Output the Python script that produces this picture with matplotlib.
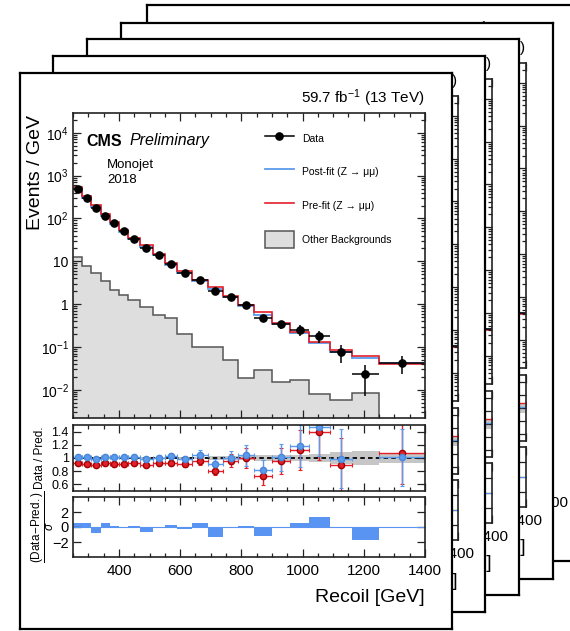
import numpy as np
import matplotlib
matplotlib.use('Agg')
import matplotlib.pyplot as plt
from matplotlib.ticker import (FixedLocator, MultipleLocator, LogLocator,
                               NullFormatter, FuncFormatter)
from matplotlib.patches import Patch
from matplotlib.lines import Line2D

plt.rcParams['font.family'] = ['Liberation Sans', 'DejaVu Sans']
plt.rcParams['mathtext.fontset'] = 'custom'
plt.rcParams['mathtext.rm'] = 'Liberation Sans'
plt.rcParams['mathtext.it'] = 'Liberation Sans:italic'
plt.rcParams['mathtext.bf'] = 'Liberation Sans:bold'

# recoil binning [GeV]
edges = np.array([250, 280, 310, 340, 370, 400, 430, 470, 510, 550, 590, 640,
                  690, 740, 790, 840, 900, 960, 1020, 1090, 1160, 1250, 1400])
# events / GeV
data = np.array([500, 307, 180, 117, 77, 50, 33, 21, 14, 8.5, 5.3, 3.6,
                 2.0, 1.45, 0.97, 0.47, 0.34, 0.25, 0.18, 0.077, 0.023, 0.042])
data_err = np.array([5, 3.7, 2.7, 2.1, 1.5, 1.1, 0.8, 0.63, 0.5, 0.34, 0.24, 0.22,
                     0.16, 0.15, 0.15, 0.085, 0.07, 0.068, 0.054, 0.035, 0.016, 0.018])
postfit = np.array([495, 304, 182, 115, 76.2, 49.5, 32.4, 21.2, 13.9, 8.25, 5.35, 3.43,
                    2.20, 1.44, 0.93, 0.57, 0.337, 0.212, 0.122, 0.0778, 0.0548, 0.0416])
prefit = np.array([538, 337, 202, 127, 84.6, 54.9, 35.9, 23.6, 15.1, 9.14, 5.82, 3.75,
                   2.50, 1.51, 0.97, 0.65, 0.358, 0.223, 0.129, 0.0856, 0.0605, 0.0393])
other_bkg = np.array([12.3, 7.7, 5.3, 3.5, 2.1, 1.6, 1.23, 0.85, 0.55, 0.47, 0.2, 0.1,
                      0.1, 0.05, 0.019, 0.029, 0.015, 0.017, 0.008, 0.0059, 0.0085, 1e-5])
# relative post-fit uncertainty
fit_unc = np.array([0.01, 0.01, 0.01, 0.01, 0.012, 0.012, 0.014, 0.015, 0.016, 0.018, 0.02, 0.022,
                    0.025, 0.028, 0.03, 0.04, 0.05, 0.05, 0.06, 0.09, 0.1, 0.07])
pulls = np.array([0.6, 0.6, -0.8, 0.6, 0.1, 0.0, 0.1, -0.6, 0.0, 0.3, -0.3, 0.5,
                  -1.3, 0.0, 0.2, -1.2, 0.0, 0.6, 1.4, 0.0, -1.7, 0.0])

ytick_vals = [1e-2, 1e-1, 1, 10, 1e2, 1e3, 1e4]
ytick_labels = ['$10^{-2}$', '$10^{-1}$', '1', '10', '$10^{2}$', '$10^{3}$', '$10^{4}$']
ratio_ticks = [0.6, 0.8, 1.0, 1.2, 1.4]
ratio_labels = ['0.6', '0.8', '1', '1.2', '1.4']
pull_ticks = [-2, 0, 2]
pull_labels = ['\u22122', '0', '2']

BLUE = '#5c9bec'
RED = '#e2202a'
PULL = '#5a94f2'

centers = 0.5 * (edges[1:] + edges[:-1])
half = 0.5 * np.diff(edges)

# sheet corners (px from top-left), back to front
sheets = [(147, 5), (121, 23), (87, 39), (53, 56), (20, 73)]
SW, SH = 432, 556
W, H = 570, 631

fig = plt.figure(figsize=(W / 100, H / 100), dpi=100)


def px_axes(x0, y0, w, h):
    return fig.add_axes([x0 / W, 1 - (y0 + h) / H, w / W, h / H])


def style(ax):
    ax.set_xlim(edges[0], edges[-1])
    ax.xaxis.set_major_locator(MultipleLocator(200))
    ax.xaxis.set_minor_locator(MultipleLocator(50))
    ax.tick_params(which='both', direction='in', top=True, right=True, width=0.9, color='#222222')
    ax.tick_params(which='major', length=6)
    ax.tick_params(which='minor', length=3)
    for s in ax.spines.values():
        s.set_linewidth(1.2)
        s.set_color('#222222')


def draw_sheet(x0, y0, front):
    # sheets further back are mostly covered: only their right-hand texts show
    card = px_axes(x0, y0, SW, SH)
    card.set_xlim(0, SW)
    card.set_ylim(SH, 0)
    card.set_xticks([])
    card.set_yticks([])
    for s in card.spines.values():
        s.set_linewidth(1.6)
        s.set_color('black')

    # upper panel: yields
    ax = px_axes(x0 + 53, y0 + 40, 352, 305)
    style(ax)
    ax.set_yscale('log')
    ax.set_ylim(2.2e-3, 2.9e4)
    ax.stairs(other_bkg, edges, baseline=1e-6, fill=True, color='#dedede')
    ax.stairs(other_bkg, edges, baseline=None, color='#555555', lw=1.1)
    ax.stairs(postfit, edges, baseline=None, color=BLUE, lw=1.3)
    ax.stairs(prefit, edges, baseline=None, color=RED, lw=1.2)
    ax.errorbar(centers, data, xerr=half, yerr=data_err, fmt='o', color='black',
                ms=5.2, lw=1.1, capsize=0)
    ax.yaxis.set_major_locator(FixedLocator(ytick_vals))
    ax.set_yticklabels(ytick_labels)
    ax.yaxis.set_minor_locator(LogLocator(subs=np.arange(2, 10), numticks=20))
    ax.yaxis.set_minor_formatter(NullFormatter())
    ax.tick_params(axis='y', labelsize=10, pad=3, labelleft=front)
    ax.tick_params(axis='x', labelbottom=False)

    if front:
        handles = [
            Line2D([], [], color='black', marker='o', ms=5.2, lw=1.1),
            Line2D([], [], color=BLUE, lw=1.3),
            Line2D([], [], color=RED, lw=1.2),
            Patch(facecolor='#dedede', edgecolor='#555555', lw=1.1),
        ]
        labels = ['Data', 'Post-fit (Z \u2192 \u03bc\u03bc)', 'Pre-fit (Z \u2192 \u03bc\u03bc)',
                  'Other Backgrounds']
        ax.legend(handles, labels, loc='upper left', bbox_to_anchor=(0.545, 0.946),
                  frameon=False, fontsize=7.5, handlelength=2.8, handleheight=2.25,
                  handletextpad=0.75, labelspacing=1.53, borderpad=0, borderaxespad=0)

        ax.text(66, 68, 'CMS', transform=card.transData, fontsize=11.5, fontweight='bold',
                ha='left', va='center')
        ax.text(109, 68, 'Preliminary', transform=card.transData, fontsize=11.5,
                style='italic', ha='left', va='center')
        ax.text(87, 92, 'Monojet', transform=card.transData, fontsize=9.5,
                ha='left', va='center')
        ax.text(87, 107, '2018', transform=card.transData, fontsize=9.5,
                ha='left', va='center')

    # middle panel: data / prediction
    rax = px_axes(x0 + 53, y0 + 352, 352, 66)
    style(rax)
    rax.set_ylim(0.5, 1.5)
    rax.stairs(1 + fit_unc, edges, baseline=1 - fit_unc, fill=True, color='#c6c6c6')
    rax.axhline(1, color='black', lw=1.3, ls=(0, (2.5, 1.8)))
    for pred, col, edge in [(prefit, RED, '#a00000'), (postfit, BLUE, '#4a86d8')]:
        ratio = data / pred
        err = data_err / pred
        ok = ratio > 0.5
        rax.errorbar(centers[ok], ratio[ok], xerr=half[ok], yerr=err[ok], fmt='o',
                     color=col, mec=edge, ms=4.5, lw=1.0, capsize=1.2, capthick=0.8)
    rax.yaxis.set_major_locator(FixedLocator(ratio_ticks))
    rax.set_yticklabels(ratio_labels)
    rax.tick_params(axis='y', labelsize=9, pad=3, labelleft=front)
    rax.tick_params(axis='x', labelbottom=False)

    # lower panel: pulls
    pax = px_axes(x0 + 53, y0 + 424, 352, 60)
    style(pax)
    pax.set_ylim(-4, 4)
    pax.stairs(pulls, edges, baseline=0, fill=True, color=PULL)
    pax.axhline(0, color=PULL, lw=0.8)
    pax.yaxis.set_major_locator(FixedLocator(pull_ticks))
    pax.set_yticklabels(pull_labels)
    pax.tick_params(axis='y', labelsize=10.5, pad=3, labelleft=front)
    pax.tick_params(axis='x', labelsize=11, pad=5)
    pax.xaxis.set_major_formatter(
        FuncFormatter(lambda v, _: f'{v:.0f}' if front or v == edges[-1] else ''))

    card.text(405, 25, '59.7 fb$^{-1}$ (13 TeV)', fontsize=11, ha='right', va='center')
    card.text(405, 525, 'Recoil [GeV]', fontsize=14, ha='right', va='center')
    if front:
        card.text(15, 42, 'Events / GeV', fontsize=14, rotation=90, ha='center', va='top')
        card.text(20, 385, 'Data / Pred.', fontsize=8.5, rotation=90,
                  ha='center', va='center')
        card.text(23, 454, r'$\dfrac{\mathrm{(Data\!-\!Pred.)}}{\sigma}$', fontsize=8.5,
                  rotation=90, ha='center', va='center')


for i, (sx, sy) in enumerate(sheets):
    draw_sheet(sx, sy, front=(i == len(sheets) - 1))

fig.savefig('out.png', dpi=100, facecolor='white')
